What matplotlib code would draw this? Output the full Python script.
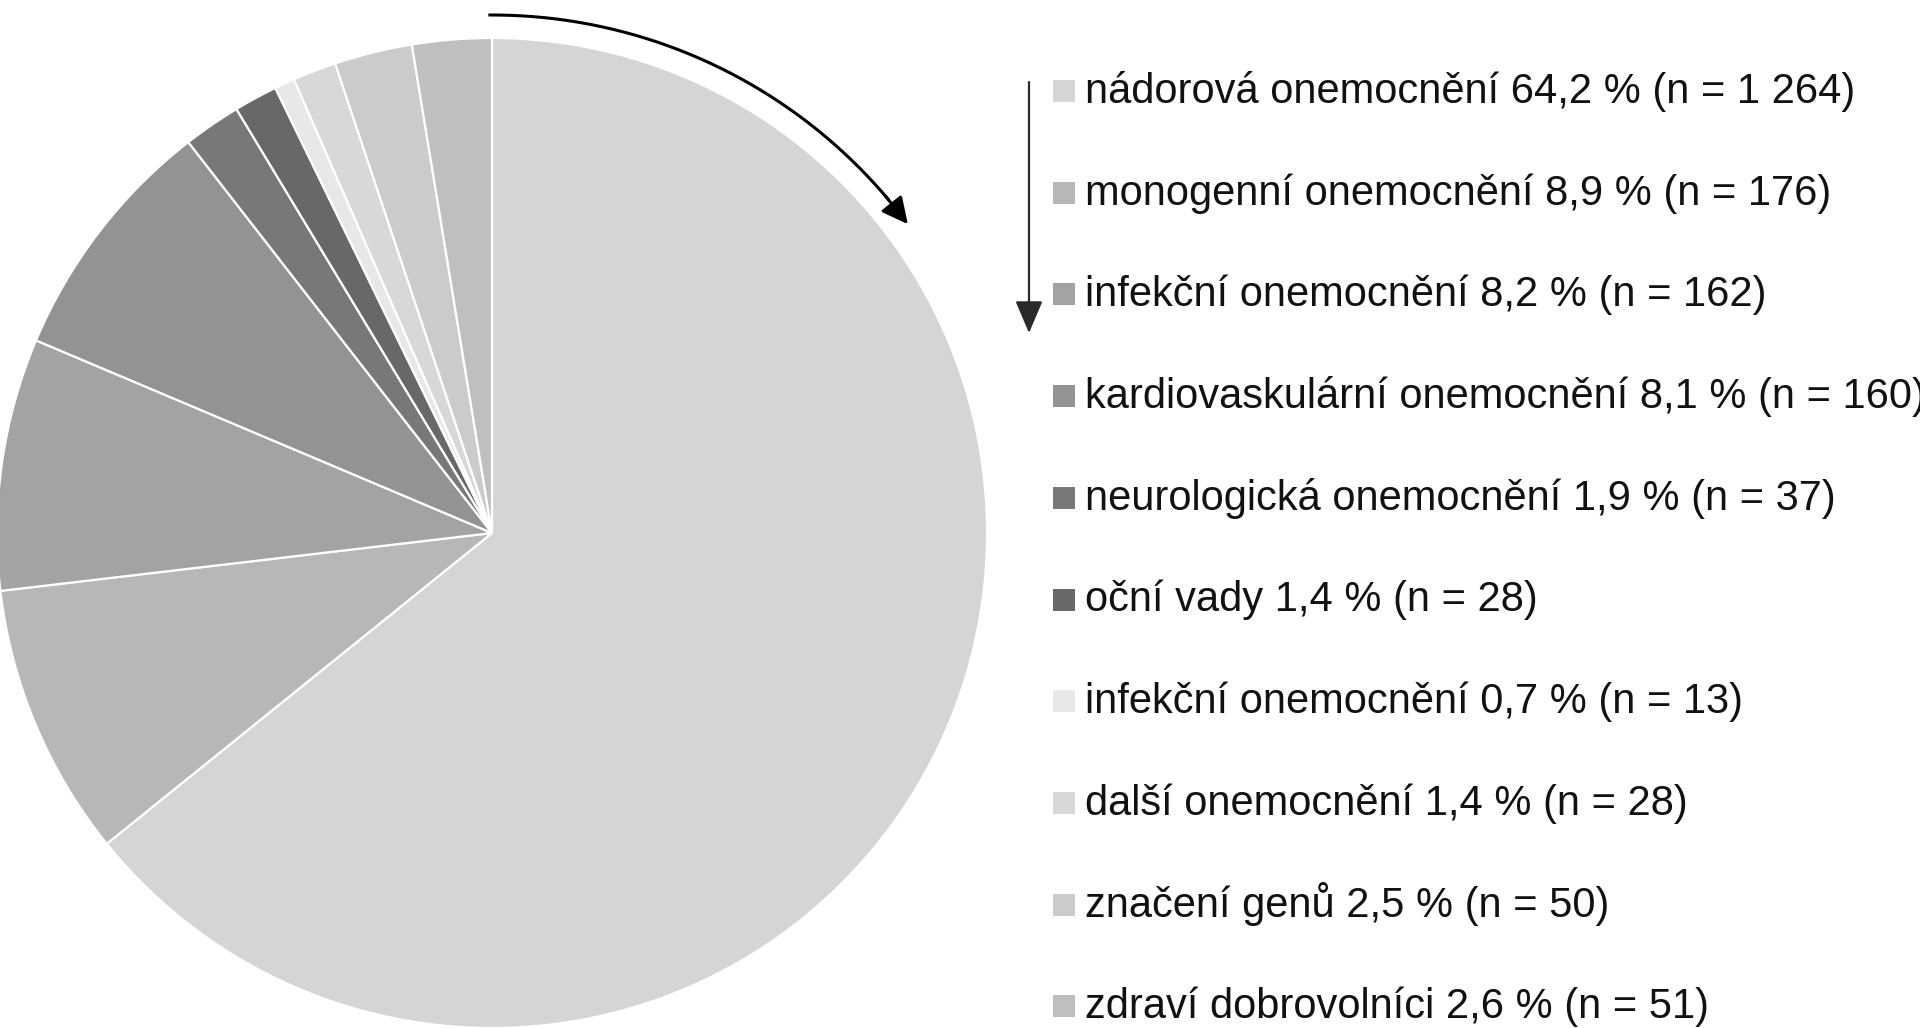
import matplotlib
matplotlib.use("Agg")
import matplotlib.pyplot as plt
from matplotlib import font_manager
from matplotlib.patches import Rectangle
import numpy as np

# Data: categories, percentages, counts and grey shades (clockwise from 12 o'clock)
categories = [
    "nádorová onemocnění",
    "monogenní onemocnění",
    "infekční onemocnění",
    "kardiovaskulární onemocnění",
    "neurologická onemocnění",
    "oční vady",
    "infekční onemocnění",
    "další onemocnění",
    "značení genů",
    "zdraví dobrovolníci",
]
percents = [64.2, 8.9, 8.2, 8.1, 1.9, 1.4, 0.7, 1.4, 2.5, 2.6]
counts = [1264, 176, 162, 160, 37, 28, 13, 28, 50, 51]
colors = ["#d5d5d5", "#b7b7b7", "#a3a3a3", "#939393", "#787878",
          "#686868", "#e8e8e8", "#d8d8d8", "#cbcbcb", "#bfbfbf"]

available = {f.name for f in font_manager.fontManager.ttflist}
family = "Liberation Sans Narrow" if "Liberation Sans Narrow" in available else "Liberation Sans"

W, H = 1920, 1028
fig = plt.figure(figsize=(W / 100, H / 100), dpi=100)
ax = fig.add_axes([0, 0, 1, 1])

# pie in pixel-like coordinates (y measured upward)
cx, cy, r = 492, H - 533, 495
ax.pie(counts, colors=colors, startangle=90, counterclock=False,
       center=(cx, cy), radius=r,
       wedgeprops=dict(edgecolor="white", linewidth=1.6))
ax.set_xlim(0, W)
ax.set_ylim(0, H)
ax.set_aspect("equal")
ax.axis("off")

# curved arrow following the pie's rim
ra = 518
theta = np.linspace(np.deg2rad(90.4), np.deg2rad(40), 200)
ax.plot(cx + ra * np.cos(theta), cy + ra * np.sin(theta), color="black", lw=2.2,
        solid_capstyle="butt")
t_end = np.deg2rad(36.6)
t_pre = np.deg2rad(40.5)
ax.annotate("", xy=(cx + ra * np.cos(t_end), cy + ra * np.sin(t_end)),
            xytext=(cx + ra * np.cos(t_pre), cy + ra * np.sin(t_pre)),
            arrowprops=dict(arrowstyle="-|>,head_length=1.6,head_width=0.8",
                            color="black", lw=2.2, shrinkA=0, shrinkB=0))

# vertical arrow next to the legend
ax.annotate("", xy=(1029, H - 333), xytext=(1029, H - 82),
            arrowprops=dict(arrowstyle="-|>,head_length=2.0,head_width=0.85",
                            color="#2a2a2a", lw=1.6, shrinkA=0, shrinkB=0))

# legend entries
y0, step = H - 103, 101.7
for i, (name, pct, n, c) in enumerate(zip(categories, percents, counts, colors)):
    yb = y0 - i * step
    ax.add_patch(Rectangle((1053, yb + 1), 22, 22, facecolor=c, edgecolor="none"))
    n_txt = f"{n:,}".replace(",", " ")
    pct_txt = f"{pct:.1f}".replace(".", ",")
    ax.text(1085, yb, f"{name} {pct_txt} % (n = {n_txt})", fontsize=30,
            family=family, va="baseline", ha="left", color="#111111")

fig.savefig("out.png", dpi=100, facecolor="white")
